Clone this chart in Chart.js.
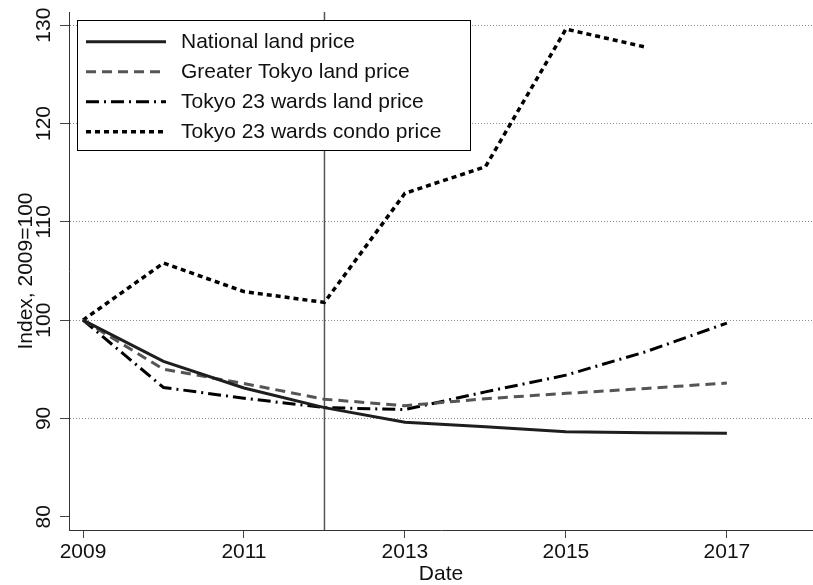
<!DOCTYPE html>
<html>
<head>
<meta charset="utf-8">
<script src="https://cdn.jsdelivr.net/npm/chart.js@4"></script>
<style>
  html, body { margin: 0; padding: 0; background: #fff; }
  #c { display: block; }
</style>
</head>
<body>
<canvas id="c" width="813" height="585"></canvas>
<script>
const years = [2009, 2010, 2011, 2012, 2013, 2014, 2015, 2016, 2017];
const condoYears = [2009, 2010, 2011, 2012, 2013, 2014, 2015, 2016];
const nationalLand = [100, 95.8, 93.1, 91.1, 89.6, 89.15, 88.65, 88.55, 88.5];
const greaterTokyoLand = [100, 95.0, 93.55, 91.95, 91.3, 92.0, 92.55, 93.05, 93.6];
const tokyo23Land = [100, 93.15, 92.05, 91.1, 90.9, 92.7, 94.4, 96.8, 99.7];
const tokyo23Condo = [100, 105.8, 102.9, 101.8, 112.9, 115.6, 129.6, 127.75];
const seriesNames = ["National land price", "Greater Tokyo land price", "Tokyo 23 wards land price", "Tokyo 23 wards condo price"];
const xTicks = [2009, 2011, 2013, 2015, 2017];
const yTicks = [80, 90, 100, 110, 120, 130];
const markerYear = 2012;

const FONT = '"Liberation Sans", Arial, Helvetica, sans-serif';
const pts = (xs, ys) => ys.map((v, i) => ({ x: xs[i], y: v }));

const datasets = [
  { label: seriesNames[0], data: pts(years, nationalLand), borderColor: '#1e1e1e', borderWidth: 3, borderDash: [] },
  { label: seriesNames[1], data: pts(years, greaterTokyoLand), borderColor: '#555555', borderWidth: 3, borderDash: [10, 6] },
  { label: seriesNames[2], data: pts(years, tokyo23Land), borderColor: '#000000', borderWidth: 3, borderDash: [13, 5, 2, 5] },
  { label: seriesNames[3], data: pts(condoYears, tokyo23Condo), borderColor: '#000000', borderWidth: 3.5, borderDash: [5, 4] }
].map(d => Object.assign(d, { fill: false, tension: 0, pointRadius: 0, pointHoverRadius: 0 }));

const customDraw = {
  id: 'customDraw',
  beforeDatasetsDraw(chart) {
    const ctx = chart.ctx, a = chart.chartArea;
    const x = chart.scales.x.getPixelForValue(markerYear);
    ctx.save();
    ctx.strokeStyle = '#555';
    ctx.lineWidth = 1.5;
    ctx.beginPath();
    ctx.moveTo(x, a.top);
    ctx.lineTo(x, a.bottom);
    ctx.stroke();
    ctx.restore();
  },
  afterDraw(chart) {
    const ctx = chart.ctx;
    const ys = chart.scales.y;
    ctx.save();
    // y tick labels, rotated
    ctx.fillStyle = '#111';
    ctx.font = '21px ' + FONT;
    ctx.textAlign = 'center';
    ctx.textBaseline = 'middle';
    yTicks.forEach(v => {
      const y = ys.getPixelForValue(v);
      ctx.save();
      ctx.translate(44, y);
      ctx.rotate(-Math.PI / 2);
      ctx.fillText(String(v), 0, 0);
      ctx.restore();
    });
    // legend box
    const bx = 77.5, by = 20.5, bw = 393, bh = 130;
    ctx.fillStyle = '#fff';
    ctx.fillRect(bx, by, bw, bh);
    ctx.strokeStyle = '#000';
    ctx.lineWidth = 1;
    ctx.setLineDash([]);
    ctx.strokeRect(bx, by, bw, bh);
    const rows = [41.7, 71.7, 101.7, 131.7];
    chart.data.datasets.forEach((d, i) => {
      const y = rows[i];
      ctx.save();
      ctx.strokeStyle = d.borderColor;
      ctx.lineWidth = d.borderWidth;
      ctx.setLineDash(d.borderDash || []);
      ctx.beginPath();
      ctx.moveTo(86, y);
      ctx.lineTo(166, y);
      ctx.stroke();
      ctx.restore();
      ctx.fillStyle = '#111';
      ctx.textAlign = 'left';
      ctx.textBaseline = 'middle';
      ctx.font = '21px ' + FONT;
      ctx.fillText(d.label, 181, y + 1);
    });
    ctx.restore();
  }
};

new Chart(document.getElementById('c'), {
  type: 'line',
  data: { datasets },
  options: {
    responsive: false,
    animation: false,
    devicePixelRatio: 1,
    layout: { padding: { top: 12, right: 0, left: 0, bottom: 0 } },
    plugins: { legend: { display: false }, tooltip: { enabled: false } },
    scales: {
      x: {
        type: 'linear',
        min: 2008.826,
        max: 2018.07,
        afterBuildTicks: s => { s.ticks = xTicks.map(v => ({ value: v })); },
        afterFit: s => { s.height = 55; },
        grid: { display: true, drawOnChartArea: false, drawTicks: true, tickLength: 8, tickColor: '#444', tickWidth: 1 },
        border: { display: true, color: '#333', width: 1 },
        ticks: {
          autoSkip: false, maxRotation: 0, minRotation: 0, padding: 2,
          color: '#111', font: { family: FONT, size: 21 },
          callback: v => String(v)
        },
        title: { display: true, text: 'Date', color: '#111', font: { family: FONT, size: 21, lineHeight: 1 }, padding: { top: 0, bottom: 0 } }
      },
      y: {
        type: 'linear',
        min: 78.65,
        max: 131.34,
        afterBuildTicks: s => { s.ticks = yTicks.map(v => ({ value: v })); },
        afterFit: s => { s.width = 69; },
        grid: {
          display: true, drawOnChartArea: true, drawTicks: true, tickLength: 9,
          color: c => (c.tick && c.tick.value === 80) ? 'rgba(0,0,0,0)' : '#8a8a8a',
          lineWidth: 1, tickColor: '#444', tickWidth: 1, tickBorderDash: []
        },
        border: { display: true, color: '#333', width: 1, dash: [1, 2] },
        ticks: { display: false },
        title: { display: true, text: 'Index, 2009=100', color: '#111', font: { family: FONT, size: 21, lineHeight: 1 }, padding: { top: 16, bottom: 0 } }
      }
    }
  },
  plugins: [customDraw]
});
</script>
</body>
</html>
